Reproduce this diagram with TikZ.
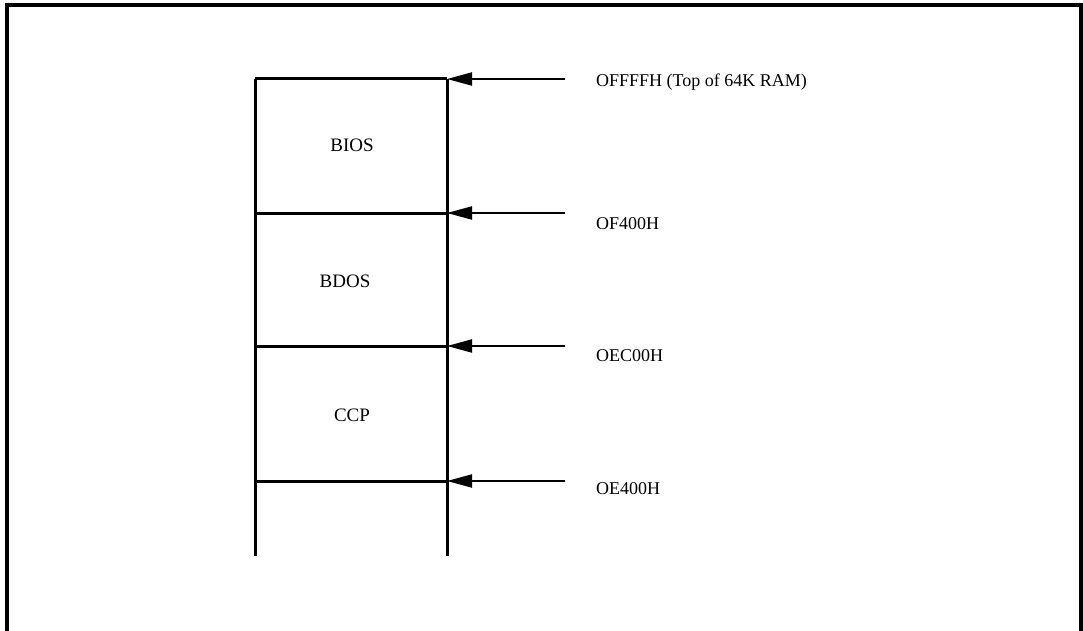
\documentclass[tikz,border=0pt]{standalone}
\usepackage{fontspec}
\setmainfont{Liberation Serif}
\usetikzlibrary{arrows.meta}

\begin{document}
\begin{tikzpicture}[x=1pt, y=-1pt]
  \useasboundingbox (0,0) rectangle (1083,631);

  % frame, open at the bottom
  \coordinate (fbl) at (7,631);
  \coordinate (ftl) at (7,5);
  \coordinate (ftr) at (1081,5);
  \coordinate (fbr) at (1081,631);
  \draw[line width=3.5pt] (fbl) -- (ftl) -- (ftr) -- (fbr);

  % memory column
  \coordinate (lt) at (255,79);
  \coordinate (lb) at (255,556);
  \coordinate (rt) at (447,79);
  \coordinate (rb) at (447,556);
  \draw[line width=3pt] (lt) -- (lb);
  \draw[line width=3pt] (rt) -- (rb);

  % boundaries and addresses
  \foreach \i/\y/\bl/\addr in {1/79/87/{OFFFFH (Top of 64K RAM)}, 2/213/229/{OF400H}, 3/346/361/{OEC00H}, 4/481/494/{OE400H}}{
    \coordinate (l\i) at (255,\y);
    \coordinate (t\i) at (447,\y);
    \coordinate (s\i) at (565,\y);
    \node[anchor=base west, inner sep=0pt, font=\fontsize{18}{20}\selectfont] (addr\i) at (596,\bl) {\addr};
    \draw[line width=3pt] (l\i) -- (t\i);
    \draw[line width=2pt, -{Triangle[length=25pt,width=13pt]}] (s\i) -- (t\i);
  }

  % blocks
  \node[anchor=base, inner sep=0pt, font=\fontsize{19}{21}\selectfont] (bios) at (352,152) {BIOS};
  \node[anchor=base, inner sep=0pt, font=\fontsize{19}{21}\selectfont] (bdos) at (345,287) {BDOS};
  \node[anchor=base, inner sep=0pt, font=\fontsize{19}{21}\selectfont] (ccp) at (352,421) {CCP};
\end{tikzpicture}
\end{document}
